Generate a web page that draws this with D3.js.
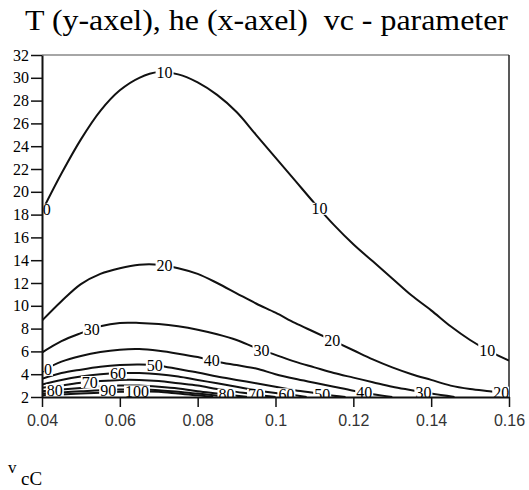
<!DOCTYPE html>
<html>
<head>
<meta charset="utf-8">
<script src="https://cdn.jsdelivr.net/npm/d3@7/dist/d3.min.js"></script>
<style>
  body { margin: 0; background: #fff; }
  svg { display: block; }
  .serif { font-family: "Liberation Serif", "Times New Roman", serif; }
</style>
</head>
<body>
<div id="chart"></div>
<script>
// T (y) against he (x), one curve per vc value
var vcLevels = [10, 20, 30, 40, 50, 60, 70, 80, 90, 100];

var curve10 = [[0.04, 18.3], [0.045, 21.6], [0.05, 24.6], [0.055, 27.1], [0.06, 28.9], [0.065, 30.0], [0.07, 30.5], [0.075, 30.3], [0.08, 29.6], [0.085, 28.5], [0.09, 27.0], [0.095, 25.0], [0.1, 23.0], [0.105, 21.0], [0.11, 19.0], [0.115, 17.1], [0.12, 15.4], [0.125, 13.9], [0.13, 12.4], [0.135, 10.9], [0.14, 9.6], [0.145, 8.2], [0.15, 7.0], [0.155, 6.0], [0.16, 5.2]];
var curve20 = [[0.04, 8.7], [0.045, 10.4], [0.05, 11.9], [0.055, 12.8], [0.06, 13.3], [0.065, 13.6], [0.07, 13.6], [0.075, 13.3], [0.08, 12.8], [0.085, 12.0], [0.09, 11.1], [0.095, 10.2], [0.1, 9.4], [0.105, 8.5], [0.11, 7.7], [0.115, 6.9], [0.12, 6.1], [0.125, 5.3], [0.13, 4.6], [0.135, 4.0], [0.14, 3.5], [0.145, 3.0], [0.15, 2.7], [0.155, 2.5], [0.16, 2.3]];
var curve30 = [[0.04, 5.9], [0.045, 6.9], [0.05, 7.6], [0.055, 8.2], [0.06, 8.5], [0.065, 8.5], [0.07, 8.4], [0.075, 8.2], [0.08, 7.9], [0.085, 7.5], [0.09, 7.0], [0.095, 6.3], [0.1, 5.7], [0.105, 5.1], [0.11, 4.6], [0.115, 4.1], [0.12, 3.7], [0.125, 3.3], [0.13, 2.9], [0.135, 2.6], [0.14, 2.3], [0.146, 2.0]];
var curve40 = [[0.04, 4.3], [0.045, 5.1], [0.05, 5.6], [0.055, 5.95], [0.06, 6.15], [0.065, 6.2], [0.07, 6.05], [0.075, 5.8], [0.08, 5.5], [0.085, 5.1], [0.09, 4.8], [0.095, 4.5], [0.1, 4.0], [0.105, 3.6], [0.11, 3.25], [0.115, 2.9], [0.12, 2.55], [0.125, 2.25], [0.13, 2.0]];
var curve50 = [[0.04, 3.6], [0.045, 4.1], [0.05, 4.4], [0.055, 4.65], [0.06, 4.8], [0.065, 4.85], [0.07, 4.75], [0.075, 4.45], [0.08, 4.15], [0.085, 3.8], [0.09, 3.5], [0.095, 3.2], [0.1, 2.9], [0.105, 2.6], [0.11, 2.35], [0.115, 2.1], [0.118, 2.0]];
var curve60 = [[0.04, 3.1], [0.045, 3.5], [0.05, 3.8], [0.055, 4.0], [0.06, 4.1], [0.065, 4.1], [0.07, 4.0], [0.075, 3.8], [0.08, 3.5], [0.085, 3.2], [0.09, 2.9], [0.095, 2.6], [0.1, 2.35], [0.105, 2.15], [0.108, 2.0]];
var curve70 = [[0.04, 2.8], [0.045, 3.0], [0.05, 3.25], [0.055, 3.4], [0.06, 3.5], [0.065, 3.5], [0.07, 3.4], [0.075, 3.2], [0.08, 3.0], [0.085, 2.7], [0.09, 2.45], [0.095, 2.2], [0.1, 2.0]];
var curve80 = [[0.04, 2.5], [0.045, 2.65], [0.05, 2.8], [0.055, 2.95], [0.06, 3.0], [0.065, 3.0], [0.07, 2.9], [0.075, 2.75], [0.08, 2.5], [0.085, 2.3], [0.09, 2.1], [0.093, 2.0]];
var curve90 = [[0.04, 2.3], [0.045, 2.4], [0.05, 2.5], [0.055, 2.6], [0.06, 2.65], [0.065, 2.65], [0.07, 2.6], [0.075, 2.45], [0.08, 2.3], [0.085, 2.1], [0.088, 2.0]];
var curve100 = [[0.04, 2.15], [0.045, 2.22], [0.05, 2.3], [0.055, 2.38], [0.06, 2.45], [0.065, 2.5], [0.07, 2.45], [0.075, 2.3], [0.08, 2.15], [0.084, 2.0]];

// where the in-line labels sit: [vc, he]
var labelSpots = [
    [10, 0.0402], [10, 0.0715], [10, 0.1113], [10, 0.1544],
    [20, 0.0715], [20, 0.1146], [20, 0.158],
    [30, 0.0528], [30, 0.0964], [30, 0.138],
    [40, 0.0405], [40, 0.0836], [40, 0.1228],
    [50, 0.069], [50, 0.112],
    [60, 0.0595], [60, 0.1028],
    [70, 0.0523], [70, 0.095],
    [80, 0.0433], [80, 0.0874],
    [90, 0.057],
    [100, 0.0644]
];

var xTicks = [0.04, 0.06, 0.08, 0.1, 0.12, 0.14, 0.16];
var yTicks = [2, 4, 6, 8, 10, 12, 14, 16, 18, 20, 22, 24, 26, 28, 30, 32];

var curves = [curve10, curve20, curve30, curve40, curve50, curve60, curve70, curve80, curve90, curve100];

(function () {
    var width = 529, height = 490;
    var plotLeft = 42, plotRight = 509, plotTop = 55, plotBottom = 397;

    var svg = d3.select("#chart")
        .append("svg")
        .attr("width", width)
        .attr("height", height);

    var x = d3.scaleLinear().domain([0.04, 0.16]).range([plotLeft, plotRight]);
    var y = d3.scaleLinear().domain([2, 32]).range([plotBottom, plotTop]);

    // title
    svg.append("text")
        .attr("class", "serif")
        .attr("x", 25)
        .attr("y", 30)
        .attr("textLength", 483)
        .attr("lengthAdjust", "spacingAndGlyphs")
        .style("white-space", "pre")
        .style("font-size", "30px")
        .attr("fill", "#000")
        .text("T (y-axel), he (x-axel)  vc - parameter");

    svg.append("defs").append("clipPath")
        .attr("id", "plot-clip")
        .append("rect")
        .attr("x", plotLeft)
        .attr("y", plotTop)
        .attr("width", plotRight - plotLeft)
        .attr("height", plotBottom - plotTop);

    // frame: grey top, black right
    svg.append("line")
        .attr("x1", plotLeft).attr("x2", plotRight)
        .attr("y1", plotTop).attr("y2", plotTop)
        .attr("stroke", "#888").attr("stroke-width", 1.5);
    svg.append("line")
        .attr("x1", plotRight).attr("x2", plotRight)
        .attr("y1", plotTop).attr("y2", plotBottom)
        .attr("stroke", "#222").attr("stroke-width", 1.5);

    var plot = svg.append("g").attr("clip-path", "url(#plot-clip)");

    var line = d3.line()
        .x(function (d) { return x(d[0]); })
        .y(function (d) { return y(d[1]); })
        .curve(d3.curveCatmullRom.alpha(0.5));

    plot.selectAll("path.contour")
        .data(curves)
        .enter()
        .append("path")
        .attr("class", "contour")
        .attr("d", line)
        .attr("fill", "none")
        .attr("stroke", "#111")
        .attr("stroke-width", 2);

    // T on a curve at a given he (linear between read points)
    function valueAt(pts, he) {
        for (var i = 1; i < pts.length; i++) {
            if (he <= pts[i][0]) {
                var a = pts[i - 1], b = pts[i];
                return a[1] + (b[1] - a[1]) * (he - a[0]) / (b[0] - a[0]);
            }
        }
        return pts[pts.length - 1][1];
    }

    var labels = plot.selectAll("g.lbl")
        .data(labelSpots)
        .enter()
        .append("g")
        .attr("class", "lbl")
        .attr("transform", function (d) {
            var pts = curves[vcLevels.indexOf(d[0])];
            return "translate(" + x(d[1]) + "," + y(valueAt(pts, d[1])) + ")";
        });

    labels.append("rect")
        .attr("x", function (d) { return d[0] >= 100 ? -13 : -9; })
        .attr("y", -6)
        .attr("width", function (d) { return d[0] >= 100 ? 26 : 18; })
        .attr("height", 12)
        .attr("fill", "#fff");

    labels.append("text")
        .attr("class", "serif")
        .attr("text-anchor", "middle")
        .attr("dy", "0.35em")
        .style("font-size", "16px")
        .attr("fill", "#000")
        .text(function (d) { return d[0]; });

    // axes
    var yAxis = svg.append("g")
        .attr("transform", "translate(" + plotLeft + ",0)")
        .call(d3.axisLeft(y).tickValues(yTicks).tickSize(11).tickSizeOuter(0).tickPadding(2).tickFormat(d3.format("d")));
    yAxis.attr("font-family", null);
    yAxis.select(".domain").attr("stroke", "#111").attr("stroke-width", 2);
    yAxis.selectAll(".tick line").attr("stroke", "#111").attr("stroke-width", 1.5);
    yAxis.selectAll(".tick text")
        .attr("class", "serif")
        .style("font-size", "16px")
        .attr("fill", "#000");

    var xAxis = svg.append("g")
        .attr("transform", "translate(0," + plotBottom + ")")
        .call(d3.axisBottom(x).tickValues(xTicks).tickSize(10).tickSizeOuter(0).tickPadding(8).tickFormat(function (d) {
            return d3.format(".2f")(d).replace(/0$/, "");
        }));
    xAxis.select(".domain").attr("stroke", "#111").attr("stroke-width", 2);
    xAxis.selectAll(".tick line").attr("stroke", "#111").attr("stroke-width", 1.5);
    xAxis.selectAll(".tick text")
        .style("font-family", "'Liberation Sans', Arial, sans-serif")
        .style("font-size", "16px")
        .attr("fill", "#333");

    // bottom-left symbol
    svg.append("text")
        .attr("class", "serif")
        .attr("x", 8)
        .attr("y", 473)
        .style("font-size", "17px")
        .text("v");
    svg.append("text")
        .attr("class", "serif")
        .attr("x", 21)
        .attr("y", 485)
        .style("font-size", "19px")
        .text("cC");
})();
</script>
</body>
</html>
